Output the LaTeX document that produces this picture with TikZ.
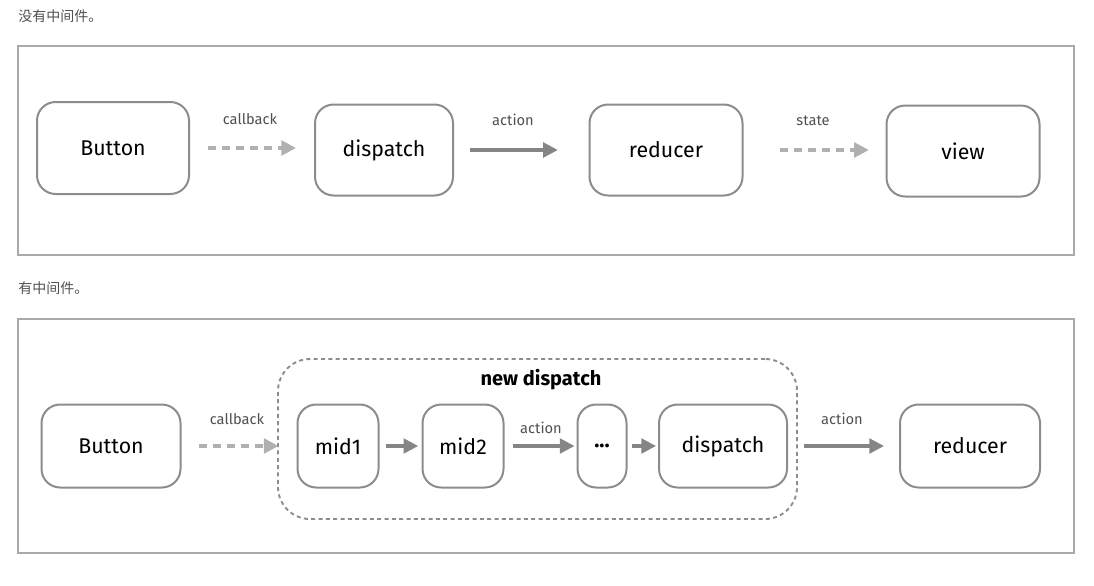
\documentclass[tikz,border=0pt]{standalone}
\usepackage{fontspec}
\setmainfont{Fira Sans}
\newfontfamily\cjk{Noto Sans CJK SC}
\usetikzlibrary{arrows.meta}
\definecolor{framegray}{HTML}{AAAAAA}
\definecolor{boxgray}{HTML}{8C8C8C}
\definecolor{arrowgray}{HTML}{858585}
\definecolor{dashgray}{HTML}{B0B0B0}
\definecolor{lblgray}{HTML}{505050}
\begin{document}
\begin{tikzpicture}[x=0.75pt,y=-0.75pt,
  box/.style={draw=boxgray, line width=1.5pt, rounded corners=14pt, inner sep=0pt,
    font=\fontsize{16}{19}\selectfont, text=black},
  frame/.style={draw=framegray, line width=1.1pt},
  lbl/.style={font=\fontsize{11}{13}\selectfont, text=lblgray},
  title/.style={font=\cjk\fontsize{10.5}{12}\selectfont, text=lblgray, anchor=west, inner sep=0pt},
  solidarrow/.style={draw=arrowgray, line width=2.4pt, -{Triangle[length=11pt,width=11pt]}},
  dasharrow/.style={draw=dashgray, line width=2.6pt, dash pattern=on 6pt off 4.5pt, -{Triangle[length=11pt,width=11pt]}},
  group/.style={draw=boxgray, line width=1.4pt, rounded corners=24pt, dash pattern=on 3pt off 2.5pt, inner sep=0pt}
]
\useasboundingbox (0,0) rectangle (1094,585);

% titles
\node[title] (t1) at (18,16) {没有中间件。};
\node[title] (t2) at (18,288) {有中间件。};

% frames
\draw[frame] (18,46) rectangle (1074,255);
\draw[frame] (18,319) rectangle (1074,553);

% top row
\node[box, minimum width=114pt, minimum height=69pt] (b1) at (113,148) {Button};
\node[box, minimum width=103.5pt, minimum height=68.25pt] (d1) at (384,150) {dispatch};
\node[box, minimum width=114.75pt, minimum height=68.25pt] (r1) at (666,150) {reducer};
\node[box, minimum width=114.75pt, minimum height=68.25pt] (v1) at (963,151) {view};

\draw[dasharrow, shorten <=13.5pt, shorten >=13.5pt] (b1.east) -- (b1.east -| d1.west);
\draw[solidarrow, shorten <=12pt, shorten >=23pt] (d1.east) -- (d1.east -| r1.west);
\draw[dasharrow, shorten <=27.5pt, shorten >=12.5pt] (r1.east) -- (r1.east -| v1.west);

\node[lbl] (l1) at (250,119) {callback};
\node[lbl] (l2) at (513,120) {action};
\node[lbl] (l3) at (813,121) {state};

% bottom row
\node[group, minimum width=389.25pt, minimum height=120pt] (nd) at (537.5,439) {};
\node[font=\bfseries\fontsize{15}{18}\selectfont, text=black] (ndl) at (541,380) {new dispatch};

\node[box, minimum width=104.25pt, minimum height=62.25pt] (b2) at (111,446) {Button};
\node[box, minimum width=60.75pt, minimum height=62.25pt] (m1) at (338,446) {mid1};
\node[box, minimum width=60.75pt, minimum height=62.25pt] (m2) at (463,446) {mid2};
\node[box, minimum width=36.75pt, minimum height=62.25pt] (dots) at (602,446) {\textbf{...}};
\node[box, minimum width=96pt, minimum height=62.25pt] (d2) at (723,446) {dispatch};
\node[box, minimum width=105pt, minimum height=62.25pt] (r2) at (970,446) {reducer};

\draw[dasharrow, shorten <=12.75pt, shorten >=13.5pt] (b2.east) -- (b2.east -| m1.west);
\draw[solidarrow, shorten <=4.5pt, shorten >=2.5pt] (m1.east) -- (m1.east -| m2.west);
\draw[solidarrow, shorten <=6pt, shorten >=1.5pt] (m2.east) -- (m2.east -| dots.west);
\draw[solidarrow, shorten <=3pt, shorten >=1.5pt] (dots.east) -- (dots.east -| d2.west);
\draw[solidarrow, shorten <=12pt, shorten >=11.25pt] (d2.east) -- (d2.east -| r2.west);

\node[lbl] (l4) at (237,419) {callback};
\node[lbl] (l5) at (541,428) {action};
\node[lbl] (l6) at (842,419) {action};
\end{tikzpicture}
\end{document}
